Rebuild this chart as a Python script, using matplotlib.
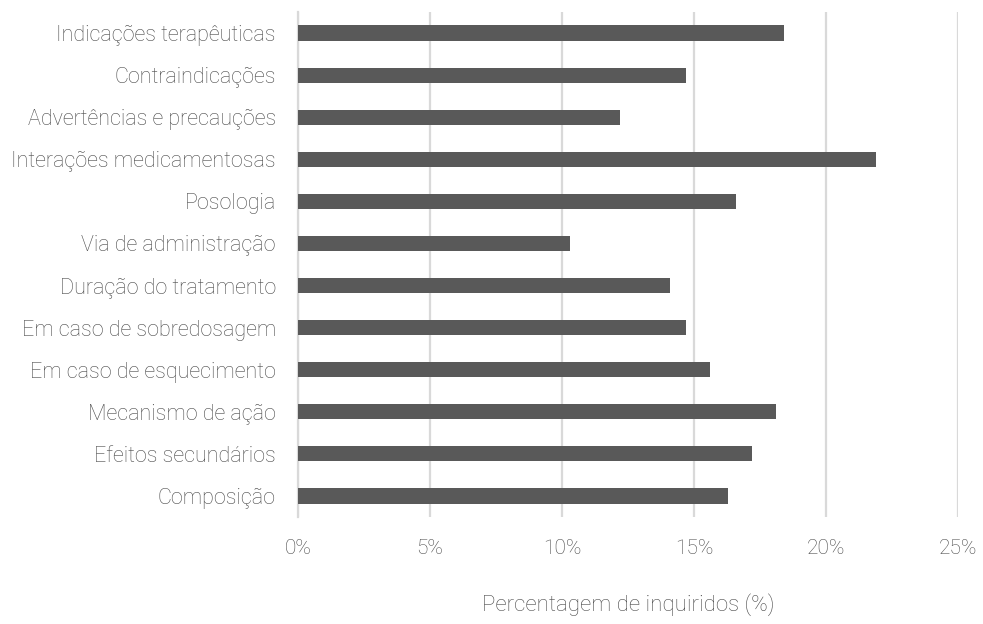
import matplotlib
matplotlib.use("Agg")
import matplotlib.pyplot as plt
from matplotlib.ticker import FuncFormatter

categories = [
    "Indicações terapêuticas",
    "Contraindicações",
    "Advertências e precauções",
    "Interações medicamentosas",
    "Posologia",
    "Via de administração",
    "Duração do tratamento",
    "Em caso de sobredosagem",
    "Em caso de esquecimento",
    "Mecanismo de ação",
    "Efeitos secundários",
    "Composição",
]
values = [18.4, 14.7, 12.2, 21.9, 16.6, 10.3, 14.1, 14.7, 15.6, 18.1, 17.2, 16.3]
x_ticks = [0, 5, 10, 15, 20, 25]
x_label = "Percentagem de inquiridos (%)"

plt.rcParams["font.family"] = ["Roboto", "DejaVu Sans"]
text_color = "#4a4a4a"

fig = plt.figure(figsize=(9.83, 6.24), dpi=100)
ax = fig.add_axes([298 / 983, (624 - 517) / 624, (958 - 298) / 983, (517 - 12) / 624])

y = list(range(len(categories)))[::-1]
ax.barh(y, values, height=0.36, color="#595959", zorder=3)

ax.set_xlim(0, 25)
ax.set_ylim(-0.5, len(categories) - 0.5)
ax.set_xticks(x_ticks)
ax.xaxis.set_major_formatter(FuncFormatter(lambda v, p: f"{v:.0f}%"))
ax.set_yticks(y)
ax.set_yticklabels(categories)

ax.grid(axis="x", color="#d9d9d9", linewidth=1.6, zorder=0)
for s in ["top", "right", "bottom"]:
    ax.spines[s].set_visible(False)
ax.spines["left"].set_color("#d9d9d9")
ax.spines["left"].set_linewidth(1.6)

ax.tick_params(axis="x", length=0, pad=16, labelsize=15, labelcolor=text_color)
ax.tick_params(axis="y", length=0, pad=16, labelsize=15.5, labelcolor=text_color)
for lab in ax.get_xticklabels() + ax.get_yticklabels():
    lab.set_fontweight("light")

ax.set_xlabel(x_label, fontsize=16, color=text_color, labelpad=25, fontweight="light")

fig.savefig("out.png", dpi=100)
